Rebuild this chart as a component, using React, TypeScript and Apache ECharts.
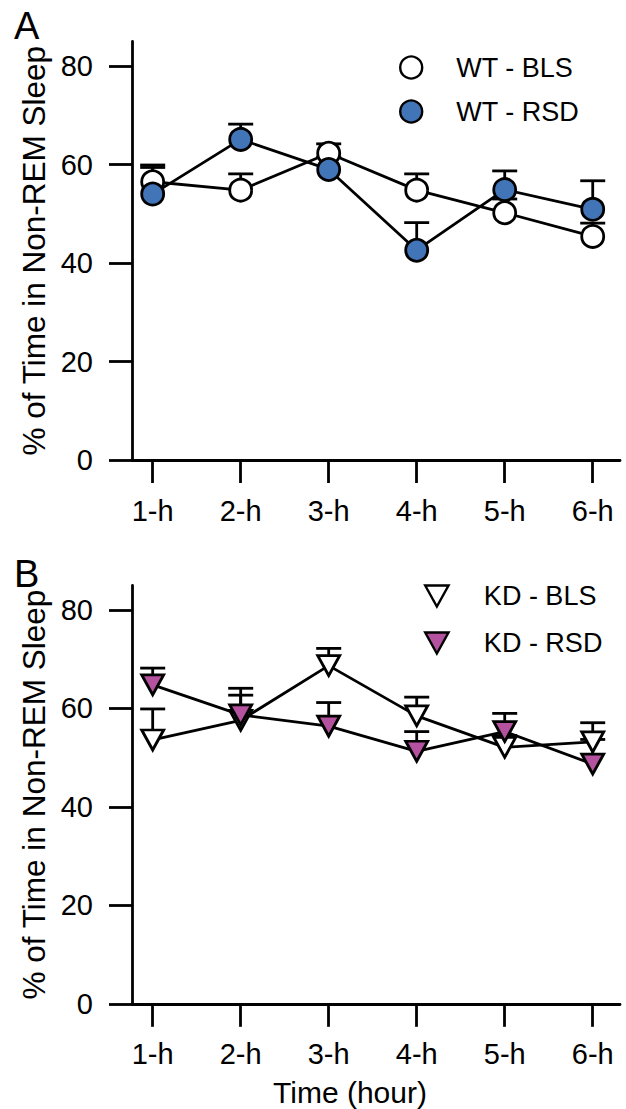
import React, { useEffect, useRef } from "react";
import * as echarts from "echarts";

const hours = ["1-h", "2-h", "3-h", "4-h", "5-h", "6-h"];
const hourPos = [1, 2, 3, 4, 5, 6];
const yTicks = [0, 20, 40, 60, 80];

const wtBls = [56.5, 54.8, 62.3, 54.8, 50.2, 45.4];
const wtBlsErr = [3.4, 3.3, 1.9, 3.3, 2.8, 2.7];
const wtRsd = [54.0, 65.1, 59.0, 42.6, 54.9, 50.9];
const wtRsdErr = [5.4, 3.1, 2.5, 5.6, 3.8, 5.8];

const kdBls = [53.6, 57.6, 68.7, 58.5, 52.1, 53.2];
const kdBlsErr = [6.3, 5.1, 3.5, 3.8, 2.4, 3.9];
const kdRsd = [64.8, 58.7, 56.4, 51.3, 55.3, 48.7];
const kdRsdErr = [3.4, 5.4, 4.8, 4.0, 3.7, 5.0];

const FONT = "Liberation Sans, Arial, sans-serif";
const BLUE = "#4274B8";
const MAGENTA = "#B5529F";
const TRI = "path://M0,0L20,0L10,18Z";
const LW = 2.8;

function pts(vals: number[]) {
  return hourPos.map((x, i) => [x, vals[i]]);
}
function errPts(vals: number[], errs: number[]) {
  return hourPos.map((x, i) => [x, vals[i], errs[i]]);
}

function errSeries(idx: number, vals: number[], errs: number[]) {
  return {
    type: "custom",
    xAxisIndex: idx,
    yAxisIndex: idx,
    z: 1,
    clip: false,
    encode: { x: 0, y: 1 },
    data: errPts(vals, errs),
    renderItem: (params: any, api: any) => {
      const x = api.value(0);
      const y = api.value(1);
      const e = api.value(2);
      const p0 = api.coord([x, y]);
      const p1 = api.coord([x, y + e]);
      return {
        type: "group",
        children: [
          { type: "line", shape: { x1: p0[0], y1: p0[1], x2: p1[0], y2: p1[1] }, style: { stroke: "#000", lineWidth: LW } },
          { type: "line", shape: { x1: p1[0] - 12.5, y1: p1[1], x2: p1[0] + 12.5, y2: p1[1] }, style: { stroke: "#000", lineWidth: LW } },
        ],
      };
    },
  };
}

function lineSeries(name: string, idx: number, vals: number[], color: string, symbol: string, size: any, z: number) {
  return {
    type: "line",
    name,
    xAxisIndex: idx,
    yAxisIndex: idx,
    z,
    data: pts(vals),
    symbol,
    symbolSize: size,
    showSymbol: true,
    clip: false,
    lineStyle: { color: "#000", width: LW },
    itemStyle: { color, borderColor: "#000", borderWidth: LW },
  };
}

function xAxisDef(idx: number) {
  return {
    type: "value",
    gridIndex: idx,
    min: 0.765,
    max: 6.31,
    splitLine: { show: false },
    axisLine: { show: true, onZero: false, lineStyle: { color: "#000", width: LW } },
    axisTick: { show: true, customValues: hourPos, length: 23, lineStyle: { color: "#000", width: LW } },
    axisLabel: {
      show: true,
      customValues: hourPos,
      formatter: (v: number) => hours[Math.round(v) - 1] ?? "",
      color: "#000",
      fontFamily: FONT,
      fontSize: 29,
      margin: 36,
    },
  };
}

function yAxisDef(idx: number) {
  return {
    type: "value",
    gridIndex: idx,
    min: 0,
    max: 85,
    splitLine: { show: false },
    axisLine: { show: true, lineStyle: { color: "#000", width: LW } },
    axisTick: { show: true, customValues: yTicks, length: 23, lineStyle: { color: "#000", width: LW } },
    axisLabel: {
      show: true,
      customValues: yTicks,
      color: "#000",
      fontFamily: FONT,
      fontSize: 29,
      margin: 39,
    },
    name: "% of Time in Non-REM Sleep",
    nameLocation: "middle",
    nameGap: 82,
    nameTextStyle: { color: "#000", fontFamily: FONT, fontSize: 31.5 },
  };
}

function legendDef(names: string[], colors: string[], icon: string, left: number, top: number, gap: number, w: number, h: number, pad: number) {
  return {
    orient: "vertical",
    left,
    top,
    itemGap: gap,
    itemWidth: w,
    itemHeight: h,
    selectedMode: false,
    data: names.map((n, i) => ({
      name: n,
      icon,
      itemStyle: { color: colors[i], borderColor: "#000", borderWidth: 2.4 },
    })),
    textStyle: { color: "#000", fontFamily: FONT, fontSize: 27, lineHeight: 27, padding: [0, 0, 0, pad] },
  };
}

export default function App() {
  const ref = useRef<HTMLDivElement>(null);
  useEffect(() => {
    document.body.style.margin = "0";
    if (!ref.current) return;
    const chart = echarts.init(ref.current, undefined, { renderer: "svg" });
    chart.setOption({
      animation: false,
      backgroundColor: "#fff",
      grid: [
        { left: 132, top: 41.4, width: 488, height: 418.6 },
        { left: 132, top: 585.4, width: 488, height: 418.4 },
      ],
      xAxis: [xAxisDef(0), xAxisDef(1)],
      yAxis: [yAxisDef(0), yAxisDef(1)],
      legend: [
        legendDef(["WT - BLS", "WT - RSD"], ["#fff", BLUE], "circle", 394, 49, 17, 22, 22, 29),
        legendDef(["KD - BLS", "KD - RSD"], ["#fff", MAGENTA], TRI, 419, 577.5, 20, 24, 21, 30),
      ],
      graphic: [
        { type: "text", left: 14, top: 7, style: { text: "A", fontFamily: FONT, fontSize: 38, fill: "#000" } },
        { type: "text", left: 14, top: 555, style: { text: "B", fontFamily: FONT, fontSize: 38, fill: "#000" } },
        { type: "text", x: 350, y: 1092, style: { text: "Time (hour)", fontFamily: FONT, fontSize: 30, fill: "#000", align: "center", verticalAlign: "middle" } },
      ],
      series: [
        errSeries(0, wtBls, wtBlsErr),
        errSeries(0, wtRsd, wtRsdErr),
        lineSeries("WT - BLS", 0, wtBls, "#fff", "circle", 22, 2),
        lineSeries("WT - RSD", 0, wtRsd, BLUE, "circle", 22, 3),
        errSeries(1, kdBls, kdBlsErr),
        errSeries(1, kdRsd, kdRsdErr),
        lineSeries("KD - BLS", 1, kdBls, "#fff", TRI, [22, 20], 2),
        lineSeries("KD - RSD", 1, kdRsd, MAGENTA, TRI, [22, 20], 3),
      ],
    });
    return () => chart.dispose();
  }, []);
  return <div ref={ref} style={{ width: 626, height: 1109 }} />;
}
